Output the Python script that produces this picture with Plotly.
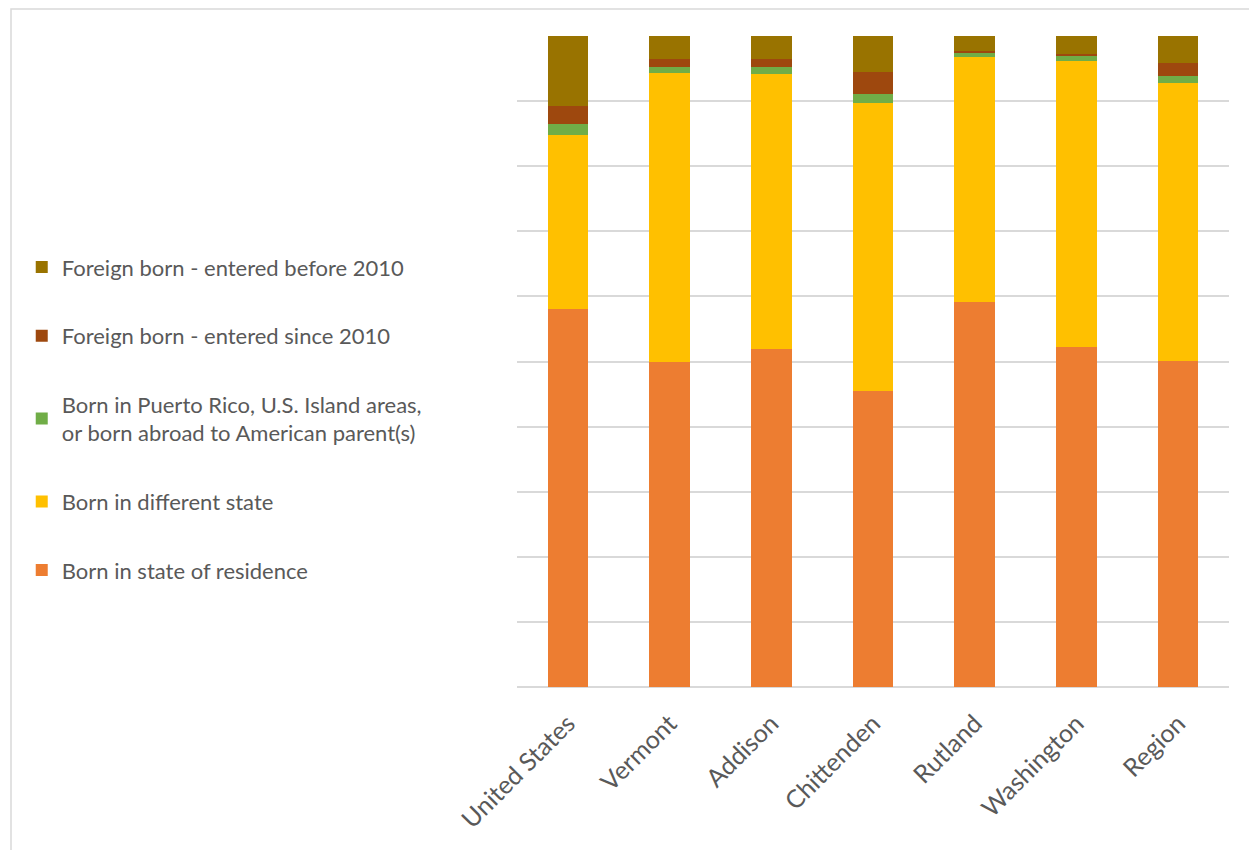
import plotly.graph_objects as go

categories = ["United States", "Vermont", "Addison", "Chittenden", "Rutland", "Washington", "Region"]

born_state_of_residence = [58.1, 49.9, 51.9, 45.5, 59.1, 52.2, 50.1]
born_different_state = [26.7, 44.4, 42.2, 44.2, 37.7, 43.9, 42.7]
born_pr_abroad = [1.7, 1.0, 1.1, 1.4, 0.6, 0.9, 1.1]
foreign_since_2010 = [2.8, 1.2, 1.3, 3.3, 0.3, 0.3, 1.95]
foreign_before_2010 = [10.7, 3.5, 3.5, 5.6, 2.3, 2.7, 4.15]

series_names = [
    "Born in state of residence",
    "Born in different state",
    "Born in Puerto Rico, U.S. Island areas,<br>or born abroad to American parent(s)",
    "Foreign born - entered since 2010",
    "Foreign born - entered before 2010",
]
series_values = [born_state_of_residence, born_different_state, born_pr_abroad,
                 foreign_since_2010, foreign_before_2010]
series_colors = ["#ED7D31", "#FFC000", "#70AD47", "#9E480E", "#997300"]

fig = go.Figure()
n = len(series_names)
for i, (name, vals, col) in enumerate(zip(series_names, series_values, series_colors)):
    fig.add_trace(go.Bar(
        x=categories, y=vals, name=name,
        marker=dict(color=col, line=dict(width=0)),
        legendgroup=f"g{i}",
        legendrank=n - i,
    ))

# page has an 8px body margin; figure sized/positioned to compensate
W, H = 1249, 842
L, R, T, B = 509, 28, 28, 163
pw = W - L - R
ph = H - T - B

fig.update_layout(
    width=W, height=H,
    barmode="stack",
    bargap=0.6,
    plot_bgcolor="white",
    paper_bgcolor="white",
    margin=dict(l=L, r=R, t=T, b=B, pad=0),
    font=dict(family="Lato, Open Sans, sans-serif", color="#595959", size=22),
    showlegend=True,
    legend=dict(
        xref="container", yref="container",
        x=0.011, y=0.717, xanchor="left", yanchor="top",
        traceorder="grouped",
        tracegroupgap=37,
        font=dict(size=22, color="#595959"),
        itemwidth=30,
        bgcolor="rgba(0,0,0,0)",
    ),
    xaxis=dict(
        tickangle=-45,
        tickfont=dict(size=25, color="#595959"),
        showgrid=False,
        showline=False,
        ticks="outside",
        ticklen=11,
        tickcolor="rgba(0,0,0,0)",
    ),
    yaxis=dict(
        range=[0, 100],
        dtick=10,
        showticklabels=False,
        showgrid=True,
        gridcolor="#d9d9d9",
        gridwidth=1.5,
        zeroline=True,
        zerolinecolor="#d9d9d9",
        zerolinewidth=1.5,
        ticks="",
    ),
)

# outer chart border (cropped on the right and bottom in the reference)
fig.add_shape(
    type="rect", xref="paper", yref="paper",
    x0=(3 - L) / pw, x1=(W + 5 - L) / pw,
    y0=-(H + 5 - (H - B)) / ph, y1=((H - B) - 1) / ph,
    line=dict(color="#d9d9d9", width=1.5),
    fillcolor="rgba(0,0,0,0)", layer="below",
)

fig.write_html("out.html")
